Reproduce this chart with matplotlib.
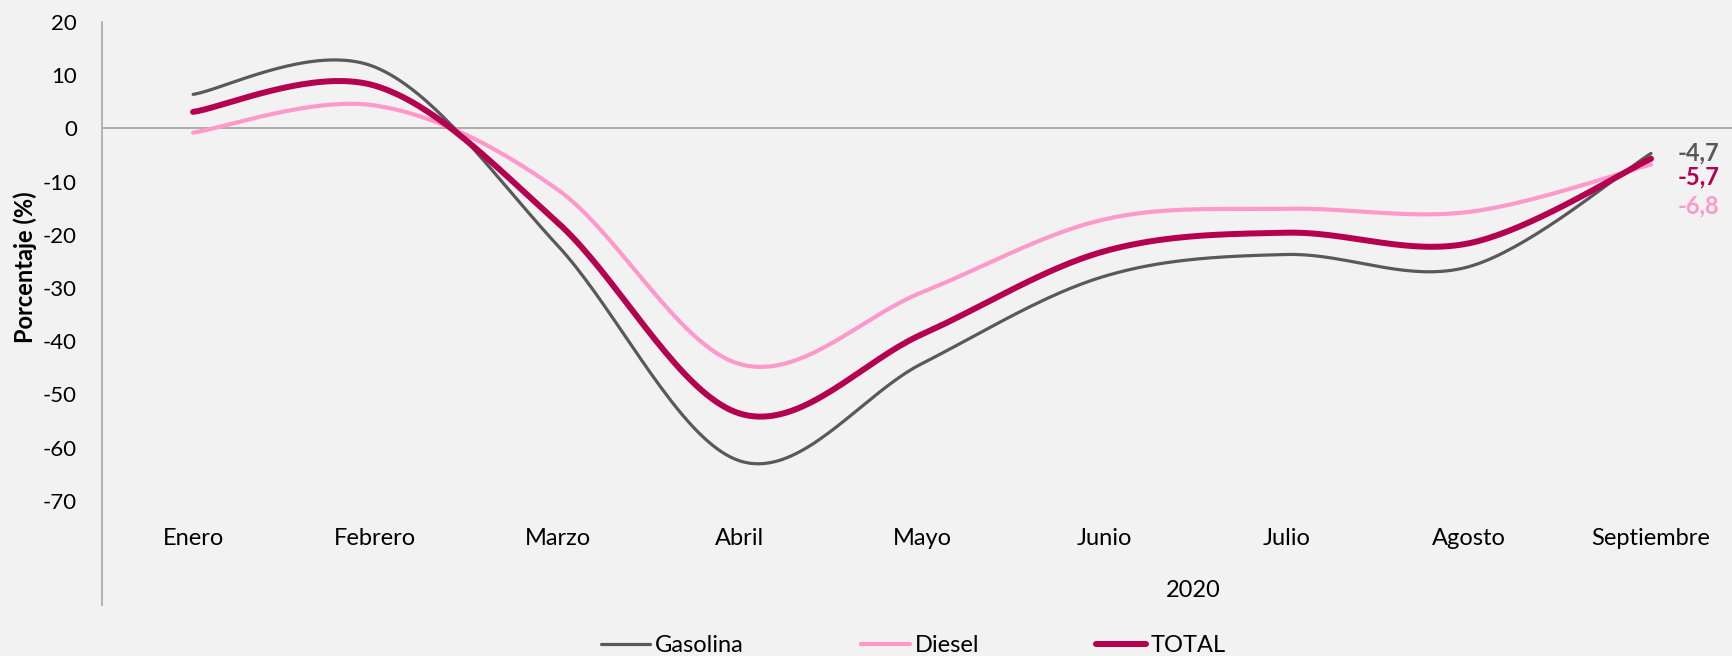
import numpy as np
import matplotlib
matplotlib.use("Agg")
import matplotlib.pyplot as plt

plt.rcParams['font.family'] = ['Lato', 'DejaVu Sans']

# data
meses = ["Enero", "Febrero", "Marzo", "Abril", "Mayo", "Junio", "Julio", "Agosto", "Septiembre"]
gasolina = [6.4, 11.5, -22.0, -62.5, -44.2, -27.8, -23.7, -26.0, -4.7]
diesel = [-0.8, 4.3, -11.5, -44.3, -30.8, -17.1, -15.1, -15.7, -6.8]
total = [3.1, 8.0, -17.7, -53.6, -38.7, -23.1, -19.6, -21.6, -5.7]
etiquetas = ["-4,7", "-6,8", "-5,7"]
anio = "2020"
yticks = [20, 10, 0, -10, -20, -30, -40, -50, -60, -70]

c_gas = "#595959"
c_die = "#FF99CC"
c_tot = "#B5004F"
bg = "#F2F2F2"


def smooth(y, n=40):
    # excel style smoothed line (bezier through the points)
    y = np.asarray(y, float)
    x = np.arange(len(y), dtype=float)
    xs, ys = [], []
    for i in range(len(y) - 1):
        p0 = (x[max(i - 1, 0)], y[max(i - 1, 0)])
        p1 = (x[i], y[i])
        p2 = (x[i + 1], y[i + 1])
        p3 = (x[min(i + 2, len(y) - 1)], y[min(i + 2, len(y) - 1)])
        c1 = (p1[0] + (p2[0] - p0[0]) / 6, p1[1] + (p2[1] - p0[1]) / 6)
        c2 = (p2[0] - (p3[0] - p1[0]) / 6, p2[1] - (p3[1] - p1[1]) / 6)
        t = np.linspace(0, 1, n)
        bx = (1 - t) ** 3 * p1[0] + 3 * (1 - t) ** 2 * t * c1[0] + 3 * (1 - t) * t ** 2 * c2[0] + t ** 3 * p2[0]
        by = (1 - t) ** 3 * p1[1] + 3 * (1 - t) ** 2 * t * c1[1] + 3 * (1 - t) * t ** 2 * c2[1] + t ** 3 * p2[1]
        xs.append(bx)
        ys.append(by)
    return np.concatenate(xs), np.concatenate(ys)


fig = plt.figure(figsize=(17.33, 6.56), dpi=100, facecolor=bg)
ax = fig.add_axes([102 / 1733, 1 - 605 / 656, 1 - 102 / 1733, (605 - 22) / 656])
ax.set_facecolor(bg)

ax.axhline(0, color="#A6A6A6", lw=1.3, zorder=1)

x, y = smooth(gasolina)
ax.plot(x, y, color=c_gas, lw=2.3, solid_capstyle="round", label="Gasolina", zorder=3)
x, y = smooth(diesel)
ax.plot(x, y, color=c_die, lw=3.0, solid_capstyle="round", label="Diesel", zorder=2)
x, y = smooth(total)
ax.plot(x, y, color=c_tot, lw=4.3, solid_capstyle="round", label="TOTAL", zorder=4)

ax.set_xlim(-0.5, 8.45)
ax.set_ylim(20 - 583 / 5.32, 20)
ax.set_yticks(yticks)
ax.set_yticklabels([str(v) for v in yticks], fontsize=16)
ax.tick_params(axis="y", length=0, pad=18)
ax.set_xticks([])

for s in ["top", "right", "bottom"]:
    ax.spines[s].set_visible(False)
ax.spines["left"].set_color("#A6A6A6")
ax.spines["left"].set_linewidth(1.2)

# category labels
for i, m in enumerate(meses):
    ax.text(i, -77.1, m, ha="center", va="center", fontsize=17)
ax.text(5.49, -86.8, anio, ha="center", va="center", fontsize=17)

ax.set_ylabel("Porcentaje (%)", fontsize=17, fontweight="bold")
ax.yaxis.set_label_coords(-0.040, 0.58)

# end labels
last = len(meses) - 1
ax.annotate(etiquetas[0], (last, gasolina[-1]), xytext=(19, 0), textcoords="offset points",
            ha="left", va="center", fontsize=17, fontweight="bold", color=c_gas)
ax.annotate(etiquetas[2], (last, total[-1]), xytext=(19, -13), textcoords="offset points",
            ha="left", va="center", fontsize=17, fontweight="bold", color=c_tot)
ax.annotate(etiquetas[1], (last, diesel[-1]), xytext=(19, -30), textcoords="offset points",
            ha="left", va="center", fontsize=17, fontweight="bold", color=c_die)

fig.legend(loc="center", bbox_to_anchor=(0.527, 0.016), ncol=3, frameon=False, fontsize=17,
           handlelength=2.1, handletextpad=0.2, columnspacing=4.95)

fig.savefig("out.png", dpi=100, facecolor=bg)
